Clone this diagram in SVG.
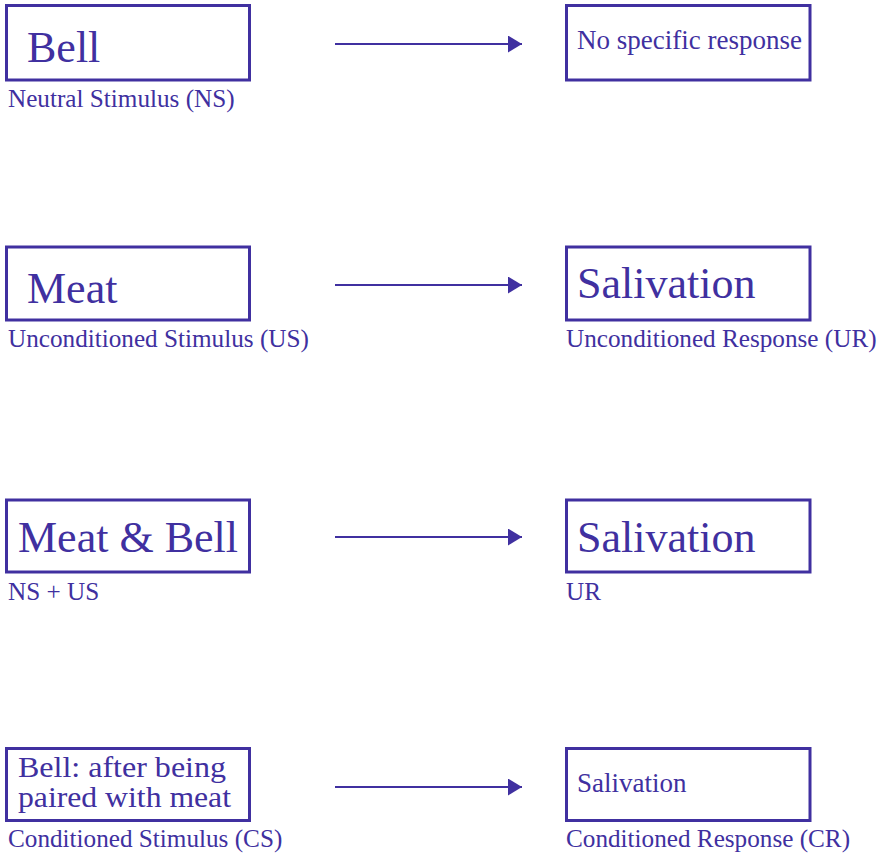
<svg xmlns="http://www.w3.org/2000/svg" width="882" height="857" viewBox="0 0 882 857">
  <style>
    .box { fill: #ffffff; stroke: #4030a0; stroke-width: 3; }
    .big { font-family: "Liberation Serif", "Times New Roman", serif; font-size: 44px; fill: #4030a0; }
    .mid { font-family: "Liberation Serif", "Times New Roman", serif; font-size: 30px; fill: #4030a0; }
    .small { font-family: "Liberation Serif", "Times New Roman", serif; font-size: 27px; fill: #4030a0; }
    .label { font-family: "Liberation Serif", "Times New Roman", serif; font-size: 25.2px; fill: #4030a0; }
    .edge { stroke: #4030a0; stroke-width: 2; fill: none; marker-end: url(#head); }
  </style>
  <defs>
    <marker id="head" markerUnits="userSpaceOnUse" markerWidth="16" markerHeight="18" refX="14" refY="8.5" orient="auto">
      <path d="M0,0 L14,8.5 L0,17 Z" fill="#4030a0"/>
    </marker>
  </defs>
  <rect width="882" height="857" fill="#ffffff"/>

  <!-- connectors -->
  <g id="connectors">
    <line class="edge" x1="335" y1="44" x2="522" y2="44"/>
    <line class="edge" x1="335" y1="285" x2="522" y2="285"/>
    <line class="edge" x1="335" y1="537" x2="522" y2="537"/>
    <line class="edge" x1="335" y1="787" x2="522" y2="787"/>
  </g>

  <!-- row 1: neutral stimulus -->
  <g id="ns">
    <rect class="box" x="6.5" y="5.5" width="243" height="74.5"/>
    <text class="big" x="27" y="62">Bell</text>
    <text class="label" x="8" y="107">Neutral Stimulus (NS)</text>
  </g>
  <g id="no-response">
    <rect class="box" x="566.5" y="5.5" width="243.5" height="74.5"/>
    <text class="small" x="577" y="49">No specific response</text>
  </g>

  <!-- row 2: unconditioned stimulus / response -->
  <g id="us">
    <rect class="box" x="6.5" y="247" width="243" height="73"/>
    <text class="big" x="27" y="303">Meat</text>
    <text class="label" x="8" y="347">Unconditioned Stimulus (US)</text>
  </g>
  <g id="ur">
    <rect class="box" x="566.5" y="247" width="243.5" height="73"/>
    <text class="big" x="577" y="298">Salivation</text>
    <text class="label" x="566" y="347">Unconditioned Response (UR)</text>
  </g>

  <!-- row 3: pairing -->
  <g id="ns-us">
    <rect class="box" x="6.5" y="500" width="243" height="72"/>
    <text class="big" x="18" y="552">Meat &amp; Bell</text>
    <text class="label" x="8" y="600">NS + US</text>
  </g>
  <g id="ur-pair">
    <rect class="box" x="566.5" y="500" width="243.5" height="72"/>
    <text class="big" x="577" y="552">Salivation</text>
    <text class="label" x="566" y="600">UR</text>
  </g>

  <!-- row 4: conditioned stimulus / response -->
  <g id="cs">
    <rect class="box" x="6.5" y="748.5" width="243" height="72"/>
    <text class="mid" x="18" y="777" textLength="208" lengthAdjust="spacingAndGlyphs">Bell: after being</text>
    <text class="mid" x="18" y="807" textLength="213" lengthAdjust="spacingAndGlyphs">paired with meat</text>
    <text class="label" x="8" y="847">Conditioned Stimulus (CS)</text>
  </g>
  <g id="cr">
    <rect class="box" x="566.5" y="748.5" width="243.5" height="72"/>
    <text class="small" x="577" y="792">Salivation</text>
    <text class="label" x="566" y="847">Conditioned Response (CR)</text>
  </g>
</svg>
